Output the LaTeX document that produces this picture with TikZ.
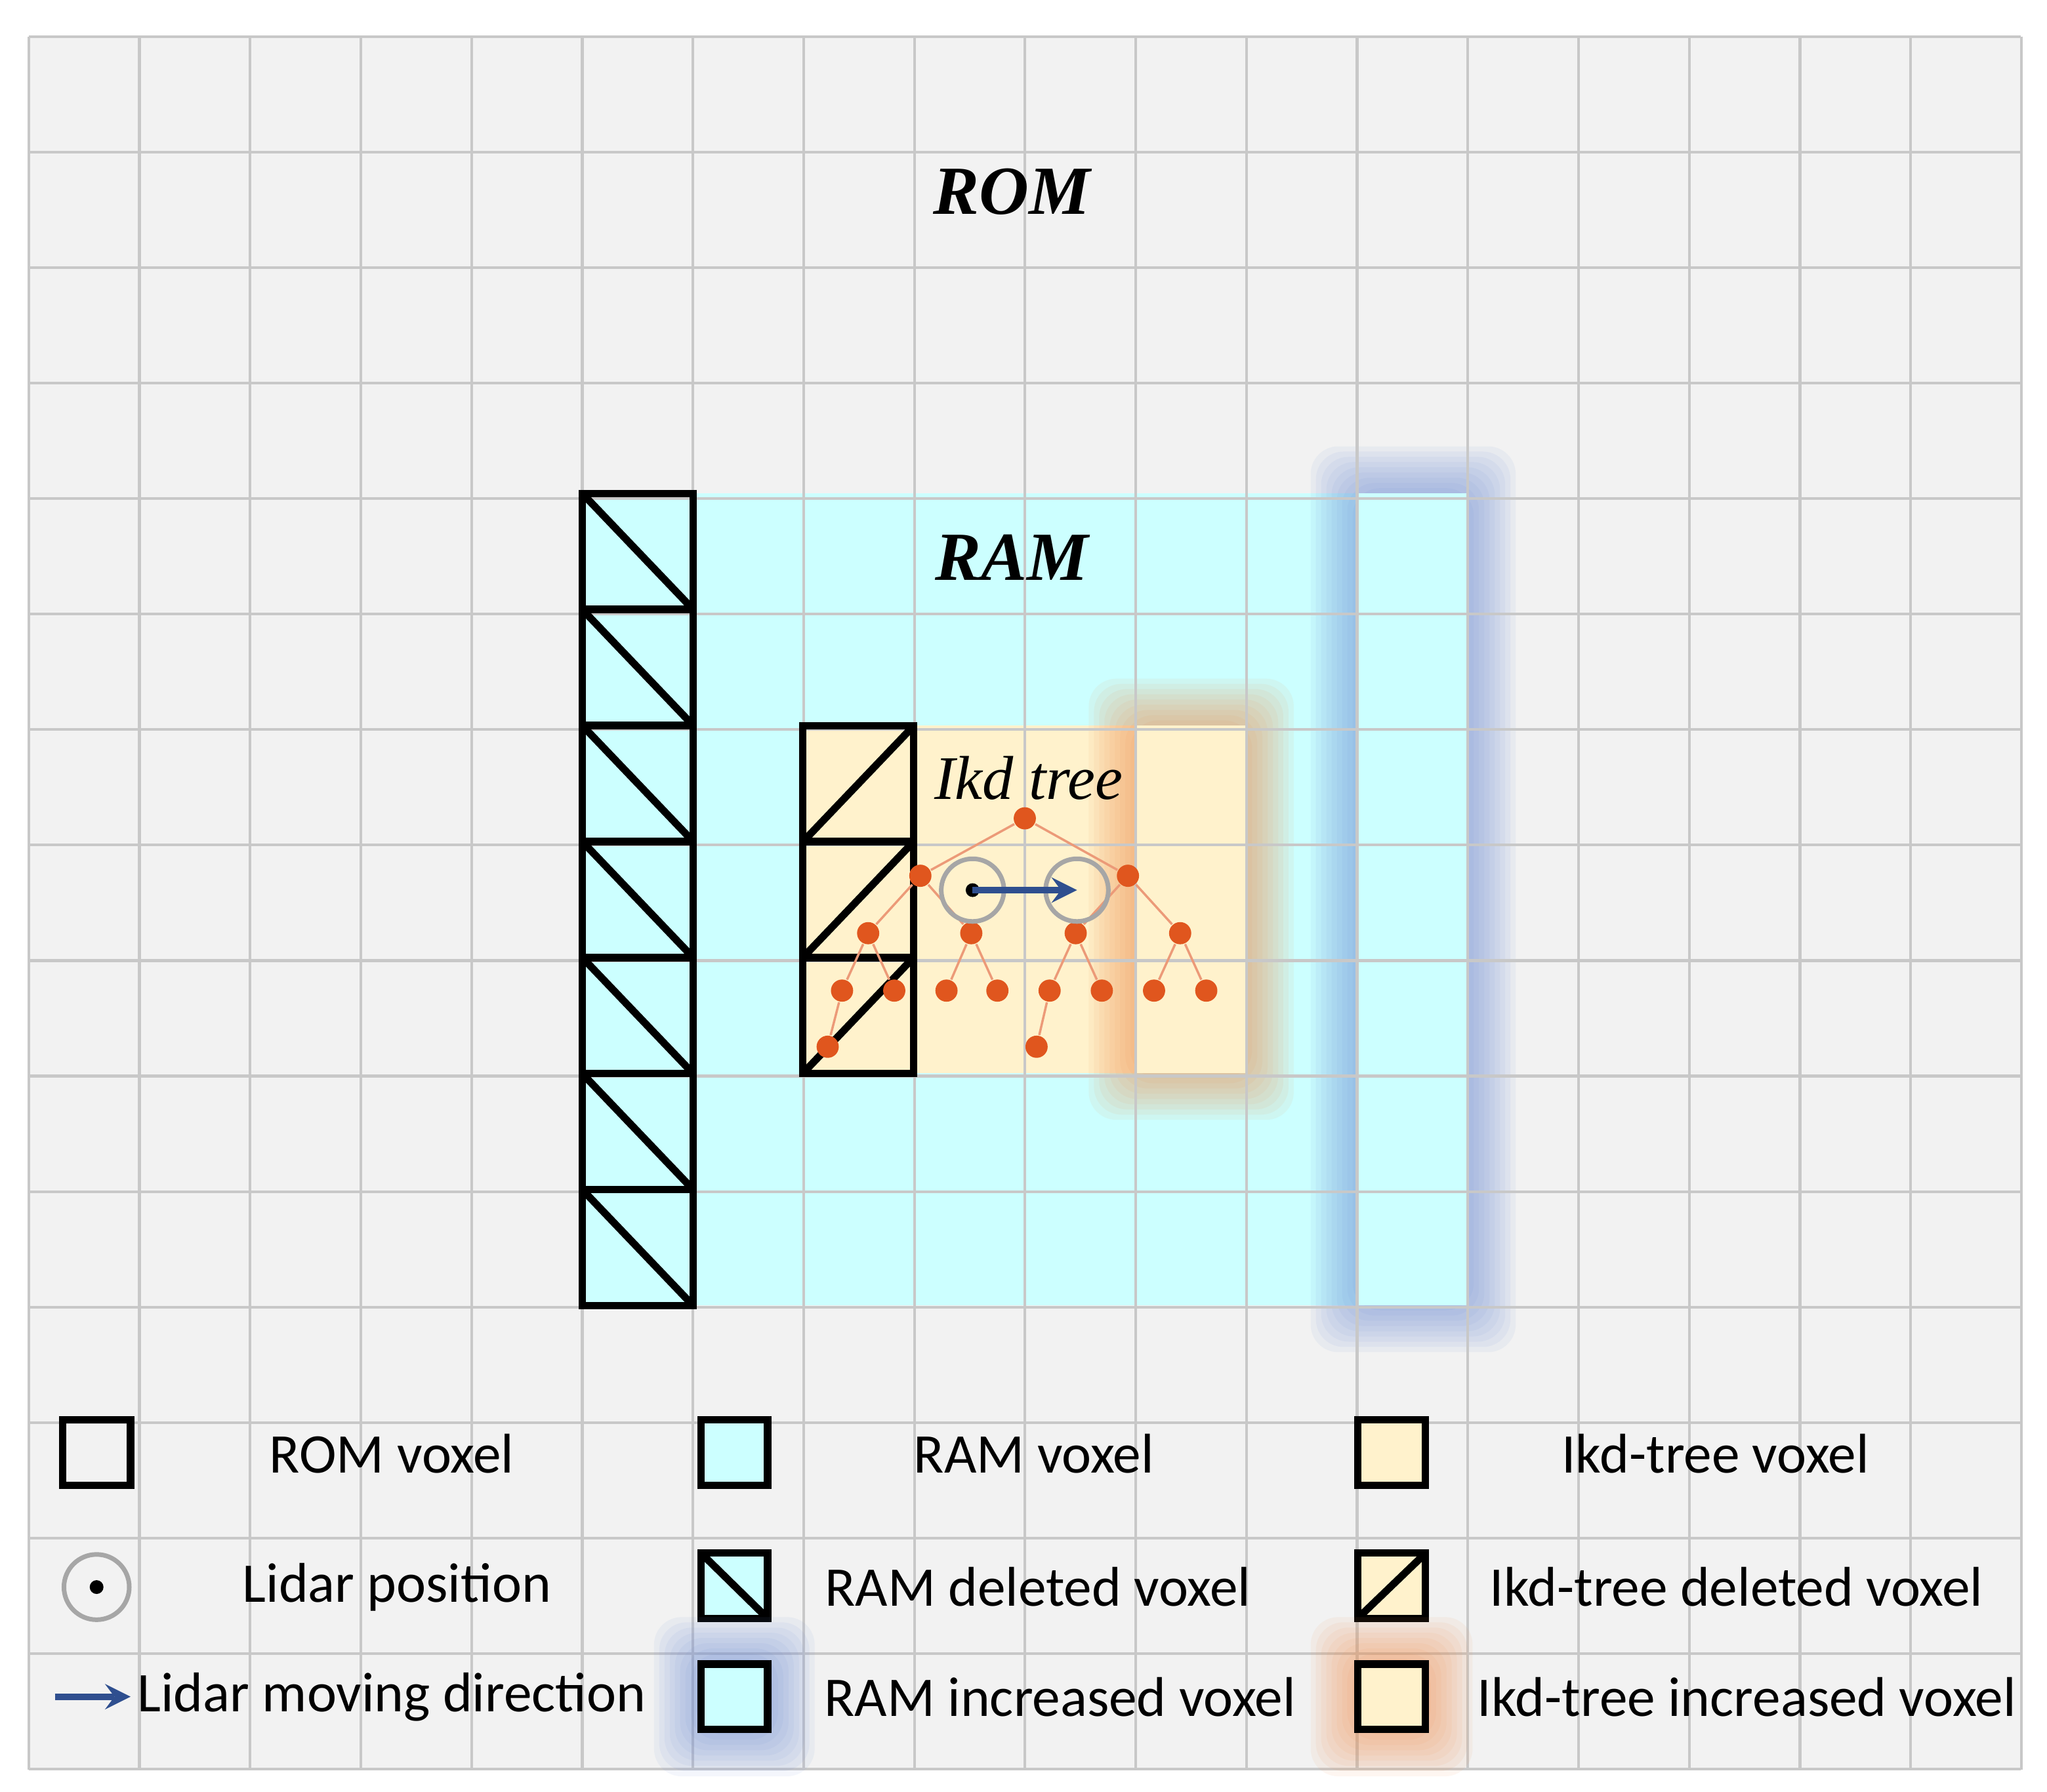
\documentclass[tikz,border=0pt]{standalone}
\usepackage{fontspec}
\setmainfont{Carlito}
\newfontfamily\scr{Liberation Serif}
\usetikzlibrary{positioning}
\definecolor{bggray}{HTML}{F2F2F2}
\definecolor{gridgray}{HTML}{C8C8C8}
\definecolor{ramcyan}{HTML}{CCFFFF}
\definecolor{ikdyellow}{HTML}{FFF2CC}
\definecolor{glowblue}{HTML}{6F8FD8}
\definecolor{gloworange}{HTML}{F09050}
\definecolor{treeorange}{HTML}{E0561E}
\definecolor{arrowblue}{HTML}{2F4F8F}
\newcommand{\glowbox}[5]{%
  \foreach \k in {1,...,9}{
    \fill[#1,opacity=0.08,rounded corners=6pt] (#2-\k*4,#3-\k*4) rectangle (#4+\k*4,#5+\k*4);
  }}
\begin{document}
\begin{tikzpicture}[x=0.01cm,y=-0.01cm,
    gridline/.style={gridgray,line width=0.6pt},
    voxel/.style={draw=black,line width=1.6pt},
    tnode/.style={circle,fill=treeorange,inner sep=0pt,minimum size=0.17cm},
    tedge/.style={treeorange!60,line width=0.5pt},
    lidar/.style={circle,draw=gray!70,line width=1pt,minimum size=0.48cm,inner sep=0pt},
    move/.style={-stealth,arrowblue,line width=1.4pt},
    legtext/.style={font=\fontsize{12.2}{14}\selectfont}]
  \useasboundingbox (0,0) rectangle (1568,1373);
  % background and regions
  \fill[bggray] (22,28) rectangle (1548,1356);
  \fill[ramcyan] (446,378) rectangle (1125,1000);
  \glowbox{glowblue}{1040}{378}{1125}{1000}
  \fill[ramcyan] (1040,378) rectangle (1125,1000);
  \fill[ikdyellow] (615,556) rectangle (870,822);
  \glowbox{gloworange}{870}{556}{955}{822}
  \fill[ikdyellow] (870,556) rectangle (955,822);
  % grid
  \foreach \i in {0,...,18}
    \draw[gridline] (22+\i*84.8,28) -- (22+\i*84.8,1356);
  \foreach \j in {0,...,15}
    \draw[gridline] (22,28+\j*88.5) -- (1548,28+\j*88.5);
  % deleted voxels
  \foreach \j in {0,...,6}{
    \draw[voxel] (446,378+\j*88.9) rectangle (531,467+\j*88.9);
    \draw[voxel] (446,378+\j*88.9) -- (531,467+\j*88.9);
  }
  \foreach \j in {0,...,2}{
    \draw[voxel] (615,556+\j*88.7) rectangle (700,645+\j*88.7);
    \draw[voxel] (615,645+\j*88.7) -- (700,556+\j*88.7);
  }
  % labels
  \node[font=\scr\bfseries\itshape\fontsize{15}{17}\selectfont] (rom) at (775,147) {ROM};
  \node[font=\scr\bfseries\itshape\fontsize{15}{17}\selectfont] (ram) at (775,427) {RAM};
  \node[font=\scr\itshape\fontsize{13.5}{15}\selectfont] (ikd) at (788,596) {Ikd tree};
  % ikd tree
  \node[tnode] (t0) at (785,627) {};
  \node[tnode] (t1) at (705,671) {};
  \node[tnode] (t2) at (864,671) {};
  \node[tnode] (t3) at (665,715) {};
  \node[tnode] (t4) at (744,715) {};
  \node[tnode] (t5) at (824,715) {};
  \node[tnode] (t6) at (904,715) {};
  \foreach \n/\x in {7/645,8/685,9/725,10/764,11/804,12/844,13/884,14/924}{
    \node[tnode] (t\n) at (\x,759) {};
  }
  \node[tnode] (t15) at (634,802) {};
  \node[tnode] (t16) at (794,802) {};
  \foreach \a/\b in {0/1,0/2,1/3,1/4,2/5,2/6,3/7,3/8,4/9,4/10,5/11,5/12,6/13,6/14,7/15,11/16}
    \draw[tedge] (t\a) -- (t\b);
  % lidar
  \node[lidar] (lid1) at (745,682) {};
  \node[lidar] (lid2) at (825,682) {};
  \fill (lid1.center) circle (1.5pt);
  \draw[move] (lid1.center) -- (lid2.center);
  % legend
  \draw[voxel] (48,1088) rectangle (100,1138);
  \node[legtext] (l1) at (300,1114) {ROM voxel};
  \draw[voxel,fill=ramcyan] (537,1088) rectangle (588,1138);
  \node[legtext] (l2) at (792,1114) {RAM voxel};
  \draw[voxel,fill=ikdyellow] (1040,1088) rectangle (1092,1138);
  \node[legtext] (l3) at (1314,1114) {Ikd-tree voxel};
  \node[lidar,minimum size=0.5cm] (lp) at (74,1216) {};
  \fill (lp.center) circle (1.5pt);
  \node[legtext] (l4) at (304,1216) {Lidar position};
  \draw[voxel,fill=ramcyan] (537,1190) rectangle (588,1240);
  \draw[voxel] (537,1190) -- (588,1240);
  \node[legtext] (l5) at (795,1216) {RAM deleted voxel};
  \draw[voxel,fill=ikdyellow] (1040,1190) rectangle (1092,1240);
  \draw[voxel] (1040,1240) -- (1092,1190);
  \node[legtext] (l6) at (1330,1216) {Ikd-tree deleted voxel};
  \coordinate (a1) at (42,1300);
  \coordinate (a2) at (100,1300);
  \draw[move] (a1) -- (a2);
  \node[legtext] (l7) at (300,1300) {Lidar moving direction};
  \glowbox{glowblue}{537}{1275}{588}{1325}
  \draw[voxel,fill=ramcyan] (537,1275) rectangle (588,1325);
  \node[legtext] (l8) at (812,1300) {RAM increased voxel};
  \glowbox{gloworange}{1040}{1275}{1092}{1325}
  \draw[voxel,fill=ikdyellow] (1040,1275) rectangle (1092,1325);
  \node[legtext] (l9) at (1338,1300) {Ikd-tree increased voxel};
\end{tikzpicture}
\end{document}
